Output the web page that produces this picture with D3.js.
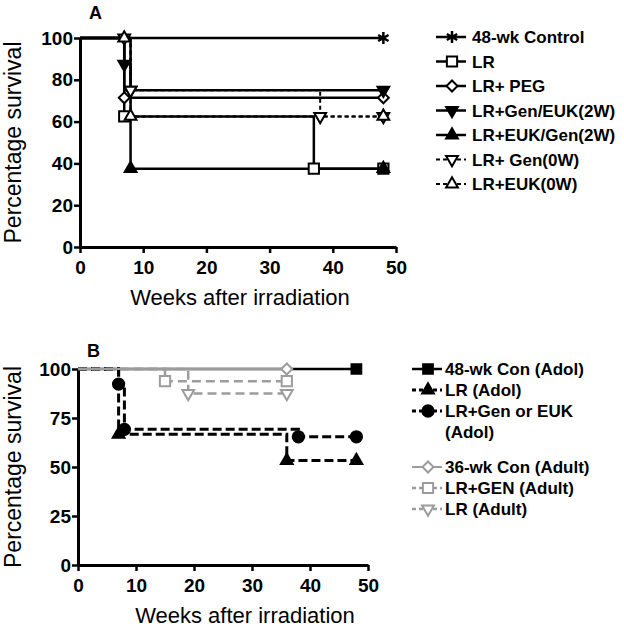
<!DOCTYPE html>
<html>
<head>
<meta charset="utf-8">
<script src="https://cdn.jsdelivr.net/npm/d3@7"></script>
<style>
  body { margin: 0; background: #fff; }
  svg { font-family: Arial, 'Liberation Sans', sans-serif; }
</style>
</head>
<body>
<svg id="chart" width="624" height="628"></svg>
<script>
// panel A: survival steps [week, percent]
const controlA = [[0, 100], [48, 100]];
const lrA = [[0, 100], [7, 62.5], [37, 37.5], [48, 37.5]];
const pegA = [[0, 100], [7, 71.4], [48, 71.4]];
const genEuk2wA = [[0, 100], [7, 87.5], [8, 75], [48, 75]];
const eukGen2wA = [[0, 100], [8, 37.5], [48, 37.5]];
const gen0wA = [[0, 100], [7, 100], [8, 75], [38, 62.5], [48, 62.5]];
const euk0wA = [[0, 100], [7, 100], [8, 62.5], [48, 62.5]];
const labelsA = ['48-wk Control', 'LR', 'LR+ PEG', 'LR+Gen/EUK(2W)', 'LR+EUK/Gen(2W)', 'LR+ Gen(0W)', 'LR+EUK(0W)'];
const yTicksA = [0, 20, 40, 60, 80, 100];

// panel B
const conAdolB = [[0, 100], [48, 100]];
const lrAdolB = [[0, 100], [7, 66.7], [36, 53.3], [48, 53.3]];
const genEukAdolB = [[0, 100], [7, 92.3], [8, 69.2], [38, 65.4], [48, 65.4]];
const conAdultB = [[0, 100], [36, 100]];
const genAdultB = [[0, 100], [15, 93.8], [36, 93.8]];
const lrAdultB = [[0, 100], [19, 87.5], [36, 87.5]];
const labelsB = ['48-wk Con (Adol)', 'LR (Adol)', ['LR+Gen or EUK', '(Adol)'], '36-wk Con (Adult)', 'LR+GEN (Adult)', 'LR (Adult)'];
const yTicksB = [0, 25, 50, 75, 100];

const xTicks = [0, 10, 20, 30, 40, 50];

const svg = d3.select('#chart');
const gray = '#9c9c9c';

// marker shapes
const shapes = {
  asterisk: { type: d3.symbolAsterisk, size: 100, fill: false, rot: 0 },
  square: { type: d3.symbolSquare, size: 105, fill: false, rot: 0 },
  squareFill: { type: d3.symbolSquare, size: 95, fill: true, rot: 0 },
  diamond: { type: d3.symbolSquare, size: 60, fill: false, rot: 45 },
  down: { type: d3.symbolTriangle, size: 60, fill: true, rot: 180 },
  up: { type: d3.symbolTriangle, size: 60, fill: true, rot: 0 },
  downOpen: { type: d3.symbolTriangle, size: 60, fill: false, rot: 180 },
  upOpen: { type: d3.symbolTriangle, size: 60, fill: false, rot: 0 },
  circle: { type: d3.symbolCircle, size: 100, fill: true, rot: 0 }
};

function marker(g, shape, x, y, color) {
  const s = shapes[shape];
  g.append('path')
    .attr('d', d3.symbol().type(s.type).size(s.size)())
    .attr('transform', `translate(${x},${y}) rotate(${s.rot})`)
    .attr('fill', s.fill ? color : '#fff')
    .attr('stroke', color)
    .attr('stroke-width', shape === 'asterisk' ? 2.5 : 2);
}

function drawPanel(p) {
  const x = d3.scaleLinear().domain([0, 50]).range(p.xRange);
  const y = d3.scaleLinear().domain([0, 100]).range(p.yRange);
  const g = svg.append('g');

  const yAxis = g.append('g')
    .attr('transform', `translate(${p.xRange[0]},0)`)
    .call(d3.axisLeft(y).tickValues(p.yTicks).tickSize(6).tickSizeOuter(0).tickPadding(1));
  const xAxis = g.append('g')
    .attr('transform', `translate(0,${p.yRange[0]})`)
    .call(d3.axisBottom(x).tickValues(xTicks).tickSize(6).tickSizeOuter(0).tickPadding(4));
  [xAxis, yAxis].forEach(a => {
    a.select('.domain').attr('stroke-width', 3);
    a.selectAll('.tick line').attr('stroke-width', 2.5);
    a.selectAll('.tick text').attr('font-size', 19).attr('font-weight', 'bold').attr('fill', '#000');
  });
  xAxis.selectAll('.tick text').attr('dy', '0.9em');

  g.append('text').attr('x', p.xRange[0] + 9).attr('y', p.letterY)
    .attr('font-size', 18).attr('font-weight', 'bold').text(p.letter);

  g.append('text')
    .attr('transform', `translate(21,${(p.yRange[0] + p.yRange[1]) / 2}) rotate(-90)`)
    .attr('text-anchor', 'middle').attr('font-size', 23).text('Percentage survival');
  g.append('text')
    .attr('x', p.xTitle).attr('y', p.yRange[0] + 58)
    .attr('text-anchor', 'middle').attr('font-size', 22).text('Weeks after irradiation');

  const line = d3.line().curve(d3.curveStepAfter).x(d => x(d[0])).y(d => y(d[1]));

  p.series.forEach(s => {
    g.append('path')
      .attr('d', line(s.data))
      .attr('fill', 'none')
      .attr('stroke', s.color)
      .attr('stroke-width', s.width)
      .attr('stroke-dasharray', s.dash || null);
  });
  p.series.forEach(s => {
    s.data.slice(1).forEach(d => marker(g, s.shape, x(d[0]), y(d[1]), s.color));
  });

  // legend
  let ly = p.legendY;
  p.series.forEach((s, i) => {
    if (p.legendGapAt === i) ly += p.legendGap;
    const lx = p.legendX;
    g.append('line')
      .attr('x1', lx).attr('x2', lx + 30).attr('y1', ly).attr('y2', ly)
      .attr('stroke', s.color).attr('stroke-width', s.width)
      .attr('stroke-dasharray', s.dash ? '4,3' : null);
    marker(g, s.shape, lx + 16, ly, s.color);
    const lab = p.labels[i];
    const lines = Array.isArray(lab) ? lab : [lab];
    lines.forEach((t, k) => {
      g.append('text')
        .attr('x', lx + p.textGap).attr('y', ly + 6 + k * 21)
        .attr('font-size', 17).attr('font-weight', 'bold').text(t);
    });
    ly += p.legendStep + (lines.length - 1) * 21;
  });
}

drawPanel({
  letter: 'A', letterY: 19,
  xRange: [80, 396], yRange: [247, 38], yTicks: yTicksA, xTitle: 240,
  labels: labelsA, legendX: 436, legendY: 37, legendStep: 24.5, textGap: 36,
  series: [
    { data: controlA, shape: 'asterisk', color: '#000', width: 2.5 },
    { data: lrA, shape: 'square', color: '#000', width: 2.5 },
    { data: pegA, shape: 'diamond', color: '#000', width: 2.5 },
    { data: genEuk2wA, shape: 'down', color: '#000', width: 2.5 },
    { data: eukGen2wA, shape: 'up', color: '#000', width: 2.5 },
    { data: gen0wA, shape: 'downOpen', color: '#000', width: 2, dash: '4,3' },
    { data: euk0wA, shape: 'upOpen', color: '#000', width: 2, dash: '4,3' }
  ]
});

drawPanel({
  letter: 'B', letterY: 357,
  xRange: [78, 368], yRange: [565, 369], yTicks: yTicksB, xTitle: 245,
  labels: labelsB, legendX: 412, legendY: 369, legendStep: 21, textGap: 33,
  legendGapAt: 3, legendGap: 14,
  series: [
    { data: conAdolB, shape: 'squareFill', color: '#000', width: 2.5 },
    { data: lrAdolB, shape: 'up', color: '#000', width: 3, dash: '9,4' },
    { data: genEukAdolB, shape: 'circle', color: '#000', width: 3, dash: '9,4' },
    { data: conAdultB, shape: 'diamond', color: gray, width: 2 },
    { data: genAdultB, shape: 'square', color: gray, width: 2.5, dash: '9,5' },
    { data: lrAdultB, shape: 'downOpen', color: gray, width: 2.5, dash: '9,5' }
  ]
});
</script>
</body>
</html>
